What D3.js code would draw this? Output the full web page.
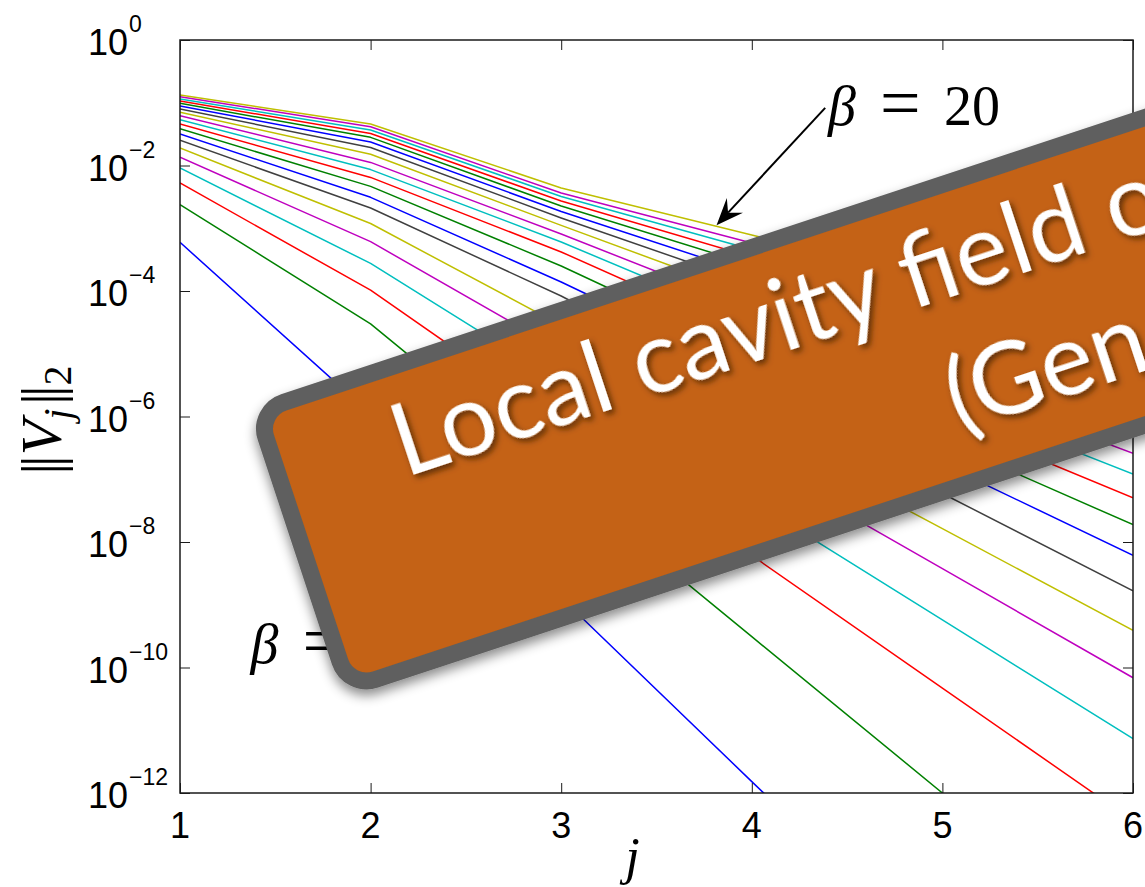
<!DOCTYPE html>
<html>
<head>
<meta charset="utf-8">
<script src="https://cdn.jsdelivr.net/npm/d3@7"></script>
<style>
  html, body { margin: 0; padding: 0; background: #ffffff; }
  svg { display: block; }
</style>
</head>
<body>
<svg id="chart" width="1145" height="887"></svg>
<script>
// ---- data: ||V_j||_2 against j for beta = 1 .. 20 ----
const jIndex = [1, 2, 3, 4, 5, 6];
const beta1  = [5.97e-4, 1.10e-6, 1.29e-9, 1.52e-12, 1.82e-15, 2.12e-18];
const beta2  = [2.37e-3, 3.00e-5, 9.66e-8, 3.10e-10, 1.00e-12, 3.22e-15];
const beta3  = [5.26e-3, 1.03e-4, 7.91e-7, 6.10e-9, 4.71e-11, 3.63e-13];
const beta4  = [9.12e-3, 2.75e-4, 3.52e-6, 4.50e-8, 5.74e-10, 7.33e-12];
const beta5  = [1.36e-2, 6.11e-4, 1.12e-5, 2.05e-7, 3.76e-9, 6.87e-11];
const beta6  = [1.90e-2, 1.19e-3, 2.84e-5, 6.81e-7, 1.63e-8, 3.92e-10];
const beta7  = [2.52e-2, 2.10e-3, 8.32e-5, 2.12e-6, 5.93e-8, 1.67e-9];
const beta8  = [3.18e-2, 3.11e-3, 1.39e-4, 4.93e-6, 1.75e-7, 6.14e-9];
const beta9  = [3.85e-2, 4.65e-3, 2.50e-4, 9.55e-6, 4.07e-7, 1.89e-8];
const beta10 = [4.58e-2, 6.46e-3, 4.19e-4, 1.85e-5, 9.12e-7, 5.08e-8];
const beta11 = [5.37e-2, 8.61e-3, 6.04e-4, 3.21e-5, 1.90e-6, 1.21e-7];
const beta12 = [6.22e-2, 1.12e-2, 8.09e-4, 5.16e-5, 3.55e-6, 2.59e-7];
const beta13 = [7.05e-2, 1.51e-2, 1.11e-3, 8.47e-5, 6.50e-6, 4.98e-7];
const beta14 = [7.94e-2, 1.94e-2, 1.46e-3, 1.29e-4, 1.15e-5, 1.02e-6];
const beta15 = [8.87e-2, 2.37e-2, 1.85e-3, 1.87e-4, 1.88e-5, 1.90e-6];
const beta16 = [9.79e-2, 2.81e-2, 2.26e-3, 2.59e-4, 2.98e-5, 3.42e-6];
const beta17 = [1.07e-1, 3.24e-2, 2.72e-3, 3.48e-4, 4.46e-5, 5.71e-6];
const beta18 = [1.15e-1, 3.68e-2, 3.21e-3, 4.58e-4, 6.56e-5, 9.38e-6];
const beta19 = [1.25e-1, 4.15e-2, 3.65e-3, 5.82e-4, 9.29e-5, 1.48e-5];
const beta20 = [1.33e-1, 4.58e-2, 4.38e-3, 7.80e-4, 1.39e-4, 2.48e-5];

const allSeries = [beta1, beta2, beta3, beta4, beta5, beta6, beta7, beta8, beta9, beta10,
                   beta11, beta12, beta13, beta14, beta15, beta16, beta17, beta18, beta19, beta20];

// classic colour order, cycled over the series
const lineColors = ["#0000ff", "#008000", "#ff0000", "#00bfbf", "#bf00bf", "#bfbf00", "#404040"];

const xTickValues = [1, 2, 3, 4, 5, 6];
const yTickExponents = [0, -2, -4, -6, -8, -10, -12];

const cardLine1 = "Local cavity field of";
const cardLine2 = "(Gen";

// ---- layout ----
const svg = d3.select("#chart");
const W = 1145, H = 887;
const plot = { left: 180, right: 1133, top: 40, bottom: 793 };

const x = d3.scaleLinear().domain([1, 6]).range([plot.left, plot.right]);
const y = d3.scaleLog().domain([1e-12, 1]).range([plot.bottom, plot.top]);

svg.append("rect").attr("width", W).attr("height", H).attr("fill", "#fff");

const defs = svg.append("defs");
defs.append("clipPath").attr("id", "plotClip")
  .append("rect")
  .attr("x", plot.left).attr("y", plot.top)
  .attr("width", plot.right - plot.left).attr("height", plot.bottom - plot.top);

const cardShadow = defs.append("filter").attr("id", "cardShadow")
  .attr("x", "-20%").attr("y", "-20%").attr("width", "140%").attr("height", "160%");
cardShadow.append("feDropShadow")
  .attr("dx", 0).attr("dy", 6).attr("stdDeviation", 6)
  .attr("flood-color", "#000").attr("flood-opacity", 0.45);

const textShadow = defs.append("filter").attr("id", "textShadow")
  .attr("x", "-10%").attr("y", "-30%").attr("width", "120%").attr("height", "160%");
textShadow.append("feDropShadow")
  .attr("dx", 2).attr("dy", 4).attr("stdDeviation", 3)
  .attr("flood-color", "#000").attr("flood-opacity", 0.55);

// ---- series lines ----
const line = d3.line()
  .x((d, i) => x(jIndex[i]))
  .y(d => y(d));

svg.append("g").attr("clip-path", "url(#plotClip)")
  .selectAll("path")
  .data(allSeries)
  .join("path")
  .attr("d", line)
  .attr("fill", "none")
  .attr("stroke", (d, i) => lineColors[i % lineColors.length])
  .attr("stroke-width", 1.5)
  .attr("stroke-linejoin", "round");

// ---- axes (box with inward ticks) ----
const axisColor = "#1a1a1a";
function styleAxis(g) {
  g.select(".domain").remove();
  g.selectAll(".tick line").attr("stroke", axisColor).attr("stroke-width", 1);
  g.selectAll(".tick text").remove();
}
const yTickVals = yTickExponents.map(e => Math.pow(10, e));

svg.append("g").attr("transform", `translate(${plot.left},0)`)
  .call(d3.axisLeft(y).tickValues(yTickVals).tickSizeInner(-10).tickSizeOuter(0)).call(styleAxis);
svg.append("g").attr("transform", `translate(${plot.right},0)`)
  .call(d3.axisRight(y).tickValues(yTickVals).tickSizeInner(-10).tickSizeOuter(0)).call(styleAxis);
svg.append("g").attr("transform", `translate(0,${plot.bottom})`)
  .call(d3.axisBottom(x).tickValues(xTickValues).tickSizeInner(-10).tickSizeOuter(0)).call(styleAxis);
svg.append("g").attr("transform", `translate(0,${plot.top})`)
  .call(d3.axisTop(x).tickValues(xTickValues).tickSizeInner(-10).tickSizeOuter(0)).call(styleAxis);

svg.append("rect")
  .attr("x", plot.left).attr("y", plot.top)
  .attr("width", plot.right - plot.left).attr("height", plot.bottom - plot.top)
  .attr("fill", "none").attr("stroke", axisColor).attr("stroke-width", 1.5);

// tick labels
const sans = "'Liberation Sans', Arial, Helvetica, sans-serif";
const yLab = svg.append("g").attr("font-family", sans).attr("fill", "#000");
yTickExponents.forEach(e => {
  const ty = y(Math.pow(10, e));
  yLab.append("text").attr("x", 88).attr("y", ty + 15).attr("font-size", 36).text("10");
  yLab.append("text").attr("x", 129).attr("y", ty - 8).attr("font-size", 23)
    .text(e === 0 ? "0" : "\u2212" + Math.abs(e));
});

svg.append("g").attr("font-family", sans).attr("font-size", 36).attr("text-anchor", "middle")
  .selectAll("text").data(xTickValues).join("text")
  .attr("x", d => x(d)).attr("y", plot.bottom + 45)
  .text(d => d);

// axis titles
const serif = "'Liberation Serif', 'DejaVu Serif', serif";
svg.append("text")
  .attr("x", (plot.left + plot.right) / 2 - 24).attr("y", 874)
  .attr("font-family", serif).attr("font-style", "italic").attr("font-size", 52)
  .attr("text-anchor", "middle").text("j");

const yTitle = svg.append("text")
  .attr("transform", "translate(61,420) rotate(-90)")
  .attr("font-family", serif).attr("font-size", 58).attr("text-anchor", "middle");
yTitle.append("tspan").attr("letter-spacing", -4).text("||");
yTitle.append("tspan").attr("dx", 4).attr("font-style", "italic").text("V");
yTitle.append("tspan").attr("font-style", "italic").attr("font-size", 40).attr("dy", 10).text("j");
yTitle.append("tspan").attr("dy", -10).attr("dx", 4).attr("letter-spacing", -4).text("||");
yTitle.append("tspan").attr("dx", 4).attr("font-size", 40).attr("dy", 10).text("2");

// ---- annotations ----
const annotations = [
  { label: "20", j: 4.40, v: 4.4e-2 },
  { label: "1",  j: 1.370, v: 1.2e-10 }
];
annotations.forEach(a => {
  const ax = x(a.j), ay = y(a.v);
  const g = svg.append("g").attr("font-family", serif).attr("font-size", 56).attr("fill", "#000");
  g.append("text").attr("x", ax).attr("y", ay).attr("font-style", "italic").text("\u03B2");
  g.append("text").attr("x", ax + 52).attr("y", ay + 2).attr("font-size", 72).text("=");
  g.append("text").attr("x", ax + 116).attr("y", ay).text(a.label);
});

// arrow towards the beta = 20 curve
const arrowFrom = { j: 4.385, v: 8.3e-2 };
const arrowTo = { j: 3.815, v: 1.12e-3 };
(function drawArrow() {
  const sx = x(arrowFrom.j), sy = y(arrowFrom.v);
  const tx = x(arrowTo.j), ty = y(arrowTo.v);
  const ang = Math.atan2(ty - sy, tx - sx);
  const notch = 17;
  const ex = tx - notch * Math.cos(ang), ey = ty - notch * Math.sin(ang);
  svg.append("line").attr("x1", sx).attr("y1", sy).attr("x2", ex).attr("y2", ey)
    .attr("stroke", "#000").attr("stroke-width", 2);
  svg.append("path")
    .attr("d", "M0,0 L-27,-11 L-17,0 L-27,11 Z")
    .attr("transform", `translate(${tx},${ty}) rotate(${ang * 180 / Math.PI})`)
    .attr("fill", "#000");
})();

// ---- tilted title card ----
const cardGroup = svg.append("g").attr("filter", "url(#cardShadow)");
const card = cardGroup.append("g").attr("transform", "translate(246.4,405.7) rotate(-18.3)");
const border = 17, cardH = 309;
card.append("rect")
  .attr("x", border / 2).attr("y", border / 2)
  .attr("width", 1600).attr("height", cardH - border)
  .attr("rx", 28).attr("ry", 28)
  .attr("fill", "#c46214").attr("stroke", "#5f5f5f").attr("stroke-width", border);

const cardText = card.append("g").attr("filter", "url(#textShadow)")
  .attr("font-family", "Lato, 'Open Sans', sans-serif").attr("font-size", 100).attr("fill", "#fff");
cardText.append("text").attr("x", 128).attr("y", 118).text(cardLine1);
cardText.append("text").attr("x", 668).attr("y", 249).text(cardLine2);
</script>
</body>
</html>
